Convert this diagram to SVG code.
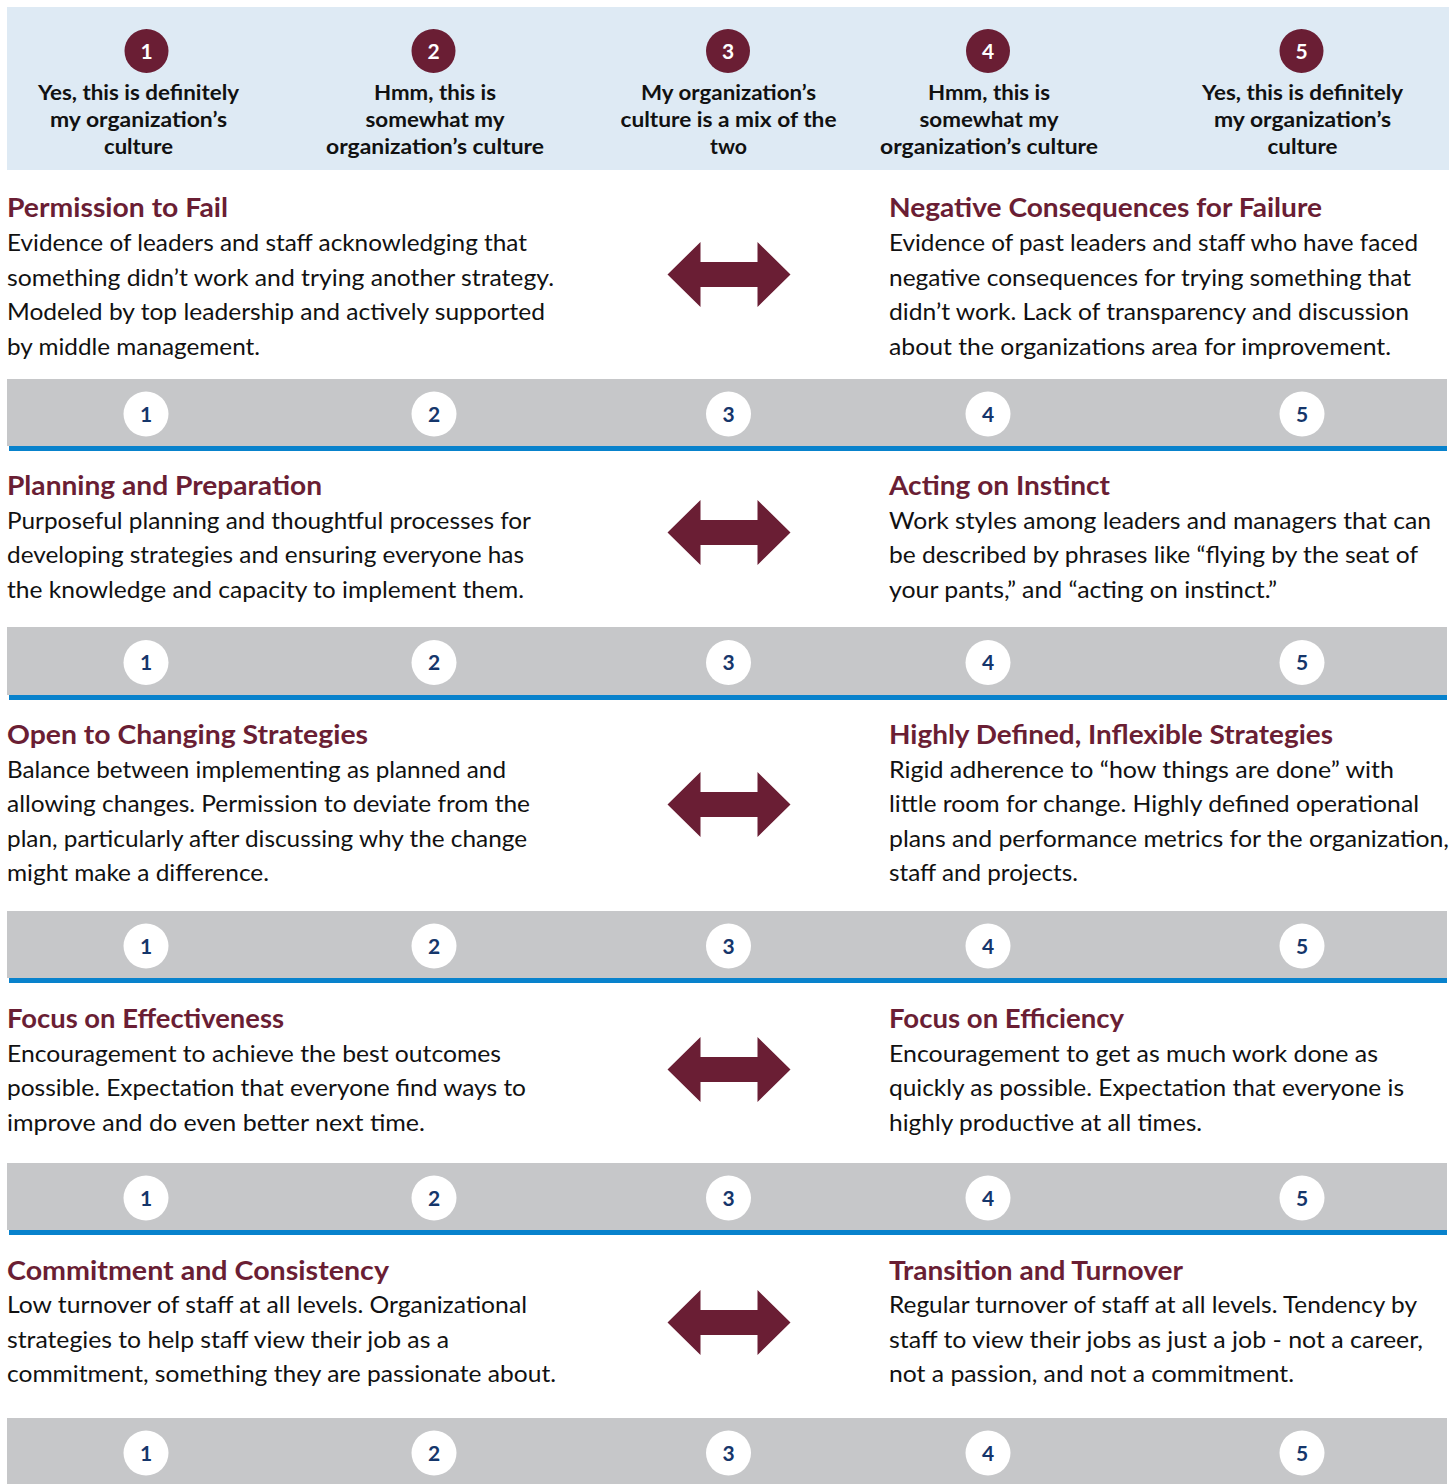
<svg xmlns="http://www.w3.org/2000/svg" width="1455" height="1484" viewBox="0 0 1455 1484">
<style>
.hdr{fill:#deeaf4}
.hc{fill:#6a1e34}
.hn{font-family:Lato,"Open Sans",sans-serif;font-weight:700;font-size:21px;fill:#ffffff;text-anchor:middle}
.ht{font-family:Lato,"Open Sans",sans-serif;font-weight:700;font-size:21px;fill:#111111;text-anchor:middle}
.ttl{font-family:Lato,"Open Sans",sans-serif;font-weight:700;font-size:26px;fill:#6a1e34}
.bd{font-family:Lato,"Open Sans",sans-serif;font-weight:400;font-size:23.5px;fill:#111111}
.bar{fill:#c6c7c9}
.bl{fill:#0882cc}
.rc{fill:#ffffff}
.rn{font-family:Lato,"Open Sans",sans-serif;font-weight:700;font-size:21px;fill:#15366b;text-anchor:middle}
.arr{fill:#6a1e34}
</style>
<defs>
<polygon id="dbl" points="-61.5,0 -28.5,-32.5 -28.5,-12.5 28.5,-12.5 28.5,-32.5 61.5,0 28.5,32.5 28.5,12.5 -28.5,12.5 -28.5,32.5"/>
<g id="rating">
<circle class="rc" cx="146" cy="0" r="22.5"/><text class="rn" x="146" y="7.5">1</text>
<circle class="rc" cx="434" cy="0" r="22.5"/><text class="rn" x="434" y="7.5">2</text>
<circle class="rc" cx="728.5" cy="0" r="22.5"/><text class="rn" x="728.5" y="7.5">3</text>
<circle class="rc" cx="988" cy="0" r="22.5"/><text class="rn" x="988" y="7.5">4</text>
<circle class="rc" cx="1302" cy="0" r="22.5"/><text class="rn" x="1302" y="7.5">5</text>
</g>
</defs>
<rect width="1455" height="1484" fill="#ffffff"/>

<g id="header">
<rect class="hdr" x="7" y="7" width="1442" height="163"/>
<g id="scale-1">
<circle class="hc" cx="146.5" cy="51" r="22"/><text class="hn" x="146.5" y="58.5">1</text>
<text class="ht" x="138.5" y="100" textLength="201" lengthAdjust="spacingAndGlyphs">Yes, this is definitely</text>
<text class="ht" x="138.5" y="127" textLength="177" lengthAdjust="spacingAndGlyphs">my organization’s</text>
<text class="ht" x="138.5" y="154" textLength="69" lengthAdjust="spacingAndGlyphs">culture</text>
</g>
<g id="scale-2">
<circle class="hc" cx="433.5" cy="51" r="22"/><text class="hn" x="433.5" y="58.5">2</text>
<text class="ht" x="435" y="100" textLength="122" lengthAdjust="spacingAndGlyphs">Hmm, this is</text>
<text class="ht" x="435" y="127" textLength="139" lengthAdjust="spacingAndGlyphs">somewhat my</text>
<text class="ht" x="435" y="154" textLength="218" lengthAdjust="spacingAndGlyphs">organization’s culture</text>
</g>
<g id="scale-3">
<circle class="hc" cx="728" cy="51" r="22"/><text class="hn" x="728" y="58.5">3</text>
<text class="ht" x="728.5" y="100" textLength="175" lengthAdjust="spacingAndGlyphs">My organization’s</text>
<text class="ht" x="728.5" y="127" textLength="216" lengthAdjust="spacingAndGlyphs">culture is a mix of the</text>
<text class="ht" x="728.5" y="154" textLength="37" lengthAdjust="spacingAndGlyphs">two</text>
</g>
<g id="scale-4">
<circle class="hc" cx="988" cy="51" r="22"/><text class="hn" x="988" y="58.5">4</text>
<text class="ht" x="989" y="100" textLength="122" lengthAdjust="spacingAndGlyphs">Hmm, this is</text>
<text class="ht" x="989" y="127" textLength="139" lengthAdjust="spacingAndGlyphs">somewhat my</text>
<text class="ht" x="989" y="154" textLength="218" lengthAdjust="spacingAndGlyphs">organization’s culture</text>
</g>
<g id="scale-5">
<circle class="hc" cx="1301.5" cy="51" r="22"/><text class="hn" x="1301.5" y="58.5">5</text>
<text class="ht" x="1302.5" y="100" textLength="201" lengthAdjust="spacingAndGlyphs">Yes, this is definitely</text>
<text class="ht" x="1302.5" y="127" textLength="177" lengthAdjust="spacingAndGlyphs">my organization’s</text>
<text class="ht" x="1302.5" y="154" textLength="70" lengthAdjust="spacingAndGlyphs">culture</text>
</g>
</g>

<g id="permission-to-fail">
<text class="ttl" x="7" y="217" textLength="221" lengthAdjust="spacingAndGlyphs">Permission to Fail</text>
<text class="bd" x="7" y="251" textLength="520" lengthAdjust="spacingAndGlyphs">Evidence of leaders and staff acknowledging that</text>
<text class="bd" x="7" y="285.5" textLength="547" lengthAdjust="spacingAndGlyphs">something didn’t work and trying another strategy.</text>
<text class="bd" x="7" y="320" textLength="538" lengthAdjust="spacingAndGlyphs">Modeled by top leadership and actively supported</text>
<text class="bd" x="7" y="354.5" textLength="253" lengthAdjust="spacingAndGlyphs">by middle management.</text>
</g>
<g id="negative-consequences">
<text class="ttl" x="889" y="217" textLength="433" lengthAdjust="spacingAndGlyphs">Negative Consequences for Failure</text>
<text class="bd" x="889" y="251" textLength="529" lengthAdjust="spacingAndGlyphs">Evidence of past leaders and staff who have faced</text>
<text class="bd" x="889" y="285.5" textLength="522" lengthAdjust="spacingAndGlyphs">negative consequences for trying something that</text>
<text class="bd" x="889" y="320" textLength="520" lengthAdjust="spacingAndGlyphs">didn’t work. Lack of transparency and discussion</text>
<text class="bd" x="889" y="354.5" textLength="502" lengthAdjust="spacingAndGlyphs">about the organizations area for improvement.</text>
</g>
<g id="rating-1">
<rect class="bar" x="7" y="379" width="1440" height="67"/>
<rect class="bl" x="9" y="446" width="1438" height="5"/>
<use href="#rating" y="414"/>
</g>

<g id="planning-and-preparation">
<text class="ttl" x="7" y="495" textLength="315" lengthAdjust="spacingAndGlyphs">Planning and Preparation</text>
<text class="bd" x="7" y="528.5" textLength="524" lengthAdjust="spacingAndGlyphs">Purposeful planning and thoughtful processes for</text>
<text class="bd" x="7" y="563" textLength="517" lengthAdjust="spacingAndGlyphs">developing strategies and ensuring everyone has</text>
<text class="bd" x="7" y="597.5" textLength="517" lengthAdjust="spacingAndGlyphs">the knowledge and capacity to implement them.</text>
</g>
<g id="acting-on-instinct">
<text class="ttl" x="889" y="495" textLength="221" lengthAdjust="spacingAndGlyphs">Acting on Instinct</text>
<text class="bd" x="889" y="528.5" textLength="542" lengthAdjust="spacingAndGlyphs">Work styles among leaders and managers that can</text>
<text class="bd" x="889" y="563" textLength="529" lengthAdjust="spacingAndGlyphs">be described by phrases like “flying by the seat of</text>
<text class="bd" x="889" y="597.5" textLength="388" lengthAdjust="spacingAndGlyphs">your pants,” and “acting on instinct.”</text>
</g>
<g id="rating-2">
<rect class="bar" x="7" y="627" width="1440" height="68"/>
<rect class="bl" x="9" y="695" width="1438" height="5"/>
<use href="#rating" y="662.5"/>
</g>

<g id="open-to-changing-strategies">
<text class="ttl" x="7" y="744" textLength="361" lengthAdjust="spacingAndGlyphs">Open to Changing Strategies</text>
<text class="bd" x="7" y="777.5" textLength="499" lengthAdjust="spacingAndGlyphs">Balance between implementing as planned and</text>
<text class="bd" x="7" y="812" textLength="523" lengthAdjust="spacingAndGlyphs">allowing changes. Permission to deviate from the</text>
<text class="bd" x="7" y="846.5" textLength="520" lengthAdjust="spacingAndGlyphs">plan, particularly after discussing why the change</text>
<text class="bd" x="7" y="881" textLength="262" lengthAdjust="spacingAndGlyphs">might make a difference.</text>
</g>
<g id="highly-defined-strategies">
<text class="ttl" x="889" y="744" textLength="444" lengthAdjust="spacingAndGlyphs">Highly Defined, Inflexible Strategies</text>
<text class="bd" x="889" y="777.5" textLength="505" lengthAdjust="spacingAndGlyphs">Rigid adherence to “how things are done” with</text>
<text class="bd" x="889" y="812" textLength="530" lengthAdjust="spacingAndGlyphs">little room for change. Highly defined operational</text>
<text class="bd" x="889" y="846.5" textLength="560" lengthAdjust="spacingAndGlyphs">plans and performance metrics for the organization,</text>
<text class="bd" x="889" y="881" textLength="189" lengthAdjust="spacingAndGlyphs">staff and projects.</text>
</g>
<g id="rating-3">
<rect class="bar" x="7" y="911" width="1440" height="67"/>
<rect class="bl" x="9" y="978" width="1438" height="5"/>
<use href="#rating" y="946"/>
</g>

<g id="focus-on-effectiveness">
<text class="ttl" x="7" y="1028" textLength="277" lengthAdjust="spacingAndGlyphs">Focus on Effectiveness</text>
<text class="bd" x="7" y="1061.5" textLength="494" lengthAdjust="spacingAndGlyphs">Encouragement to achieve the best outcomes</text>
<text class="bd" x="7" y="1096" textLength="519" lengthAdjust="spacingAndGlyphs">possible. Expectation that everyone find ways to</text>
<text class="bd" x="7" y="1130.5" textLength="418" lengthAdjust="spacingAndGlyphs">improve and do even better next time.</text>
</g>
<g id="focus-on-efficiency">
<text class="ttl" x="889" y="1028" textLength="235" lengthAdjust="spacingAndGlyphs">Focus on Efficiency</text>
<text class="bd" x="889" y="1061.5" textLength="489" lengthAdjust="spacingAndGlyphs">Encouragement to get as much work done as</text>
<text class="bd" x="889" y="1096" textLength="515" lengthAdjust="spacingAndGlyphs">quickly as possible. Expectation that everyone is</text>
<text class="bd" x="889" y="1130.5" textLength="313" lengthAdjust="spacingAndGlyphs">highly productive at all times.</text>
</g>
<g id="rating-4">
<rect class="bar" x="7" y="1163" width="1440" height="67"/>
<rect class="bl" x="9" y="1230" width="1438" height="5"/>
<use href="#rating" y="1198"/>
</g>

<g id="commitment-and-consistency">
<text class="ttl" x="7" y="1280" textLength="382" lengthAdjust="spacingAndGlyphs">Commitment and Consistency</text>
<text class="bd" x="7" y="1313" textLength="520" lengthAdjust="spacingAndGlyphs">Low turnover of staff at all levels. Organizational</text>
<text class="bd" x="7" y="1347.5" textLength="442" lengthAdjust="spacingAndGlyphs">strategies to help staff view their job as a</text>
<text class="bd" x="7" y="1382" textLength="549" lengthAdjust="spacingAndGlyphs">commitment, something they are passionate about.</text>
</g>
<g id="transition-and-turnover">
<text class="ttl" x="889" y="1280" textLength="294" lengthAdjust="spacingAndGlyphs">Transition and Turnover</text>
<text class="bd" x="889" y="1313" textLength="528" lengthAdjust="spacingAndGlyphs">Regular turnover of staff at all levels. Tendency by</text>
<text class="bd" x="889" y="1347.5" textLength="534" lengthAdjust="spacingAndGlyphs">staff to view their jobs as just a job - not a career,</text>
<text class="bd" x="889" y="1382" textLength="405" lengthAdjust="spacingAndGlyphs">not a passion, and not a commitment.</text>
</g>
<g id="rating-5">
<rect class="bar" x="7" y="1418" width="1440" height="66"/>
<use href="#rating" y="1453"/>
</g>

<g id="connectors">
<use href="#dbl" class="arr" x="729" y="274.5"/>
<use href="#dbl" class="arr" x="729" y="532.5"/>
<use href="#dbl" class="arr" x="729" y="804.5"/>
<use href="#dbl" class="arr" x="729" y="1069.5"/>
<use href="#dbl" class="arr" x="729" y="1322.5"/>
</g>
</svg>
